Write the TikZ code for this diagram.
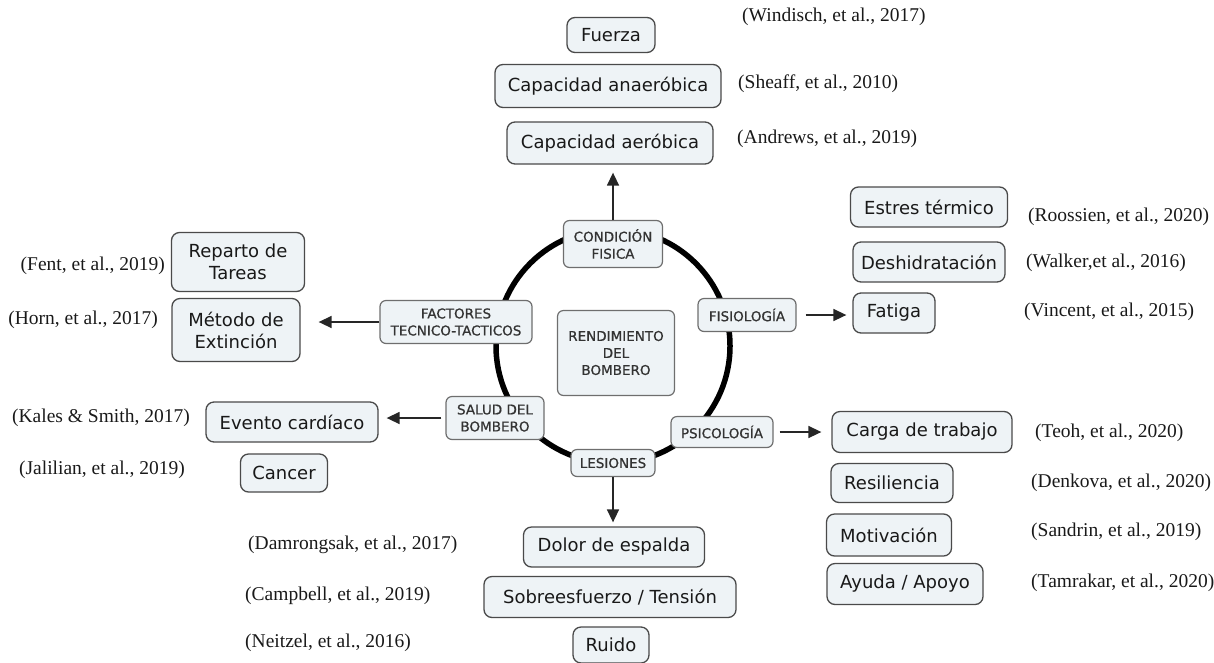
\documentclass[tikz,border=0pt]{standalone}
\usepackage{fontspec}
\setmainfont{Liberation Serif}
\newfontfamily\boxfont{DejaVu Sans}
\newfontfamily\innerfont[FakeBold=0.8]{DejaVu Sans}
\usetikzlibrary{arrows.meta}
\definecolor{boxfill}{HTML}{EEF3F6}
\definecolor{boxline}{HTML}{4A4A4A}
\definecolor{innertext}{HTML}{333333}
\tikzset{
  x=1pt, y=-1pt,
  outer/.style={draw=boxline, fill=boxfill, rounded corners=8pt, line width=1.3pt,
    font=\boxfont\fontsize{18}{22}\selectfont, text=black!90, inner xsep=0pt, inner ysep=0pt,
    align=center, anchor=center},
  inner/.style={draw=boxline!80, fill=boxfill, rounded corners=6pt, line width=1.2pt,
    font=\innerfont\fontsize{13.5}{17}\selectfont, text=innertext, inner xsep=0pt, inner ysep=0pt,
    align=center, anchor=center},
  cite/.style={font=\fontsize{19.5}{22}\selectfont, text=black!90, inner sep=0pt},
  arr/.style={draw=black!85, line width=1.5pt, -{Triangle[length=13pt,width=12pt]}},
}
\begin{document}
\begin{tikzpicture}
\useasboundingbox (0,0) rectangle (1214,662);
% ring
\coordinate (ringc) at (613,346);
\draw[line width=5.5pt, black] (ringc) circle (117pt);

% inner nodes
\node[inner, minimum width=99pt, minimum height=47pt] (cond) at (613,244) {CONDICIÓN\\FISICA};
\node[inner, minimum width=152pt, minimum height=43pt] (fact) at (456,322) {FACTORES\\TECNICO-TACTICOS};
\node[inner, minimum width=117pt, minimum height=85pt] (rend) at (616,353) {RENDIMIENTO\\DEL\\BOMBERO};
\node[inner, minimum width=98pt, minimum height=33pt] (fisio) at (747,315) {FISIOLOGÍA};
\node[inner, minimum width=98pt, minimum height=43pt] (salud) at (495,418) {SALUD DEL\\BOMBERO};
\node[inner, minimum width=102pt, minimum height=31pt] (psico) at (722,432) {PSICOLOGÍA};
\node[inner, minimum width=84pt, minimum height=27pt] (lesion) at (613,463) {LESIONES};

% outer nodes
\node[outer, minimum width=88pt, minimum height=35pt] (fuerza) at (611,35) {Fuerza};
\node[outer, minimum width=226pt, minimum height=43pt] (anaer) at (608,86) {Capacidad anaeróbica};
\node[outer, minimum width=206pt, minimum height=42pt] (aer) at (610,143) {Capacidad aeróbica};

\node[outer, minimum width=157pt, minimum height=40pt] (estres) at (929,207) {Estres térmico};
\node[outer, minimum width=152pt, minimum height=40pt] (deshi) at (929,262) {Deshidratación};
\node[outer, minimum width=82pt, minimum height=40pt] (fatiga) at (894,313) {Fatiga};

\node[outer, minimum width=133pt, minimum height=59pt] (reparto) at (238,262) {Reparto de\\Tareas};
\node[outer, minimum width=128pt, minimum height=63pt] (metodo) at (236,330) {Método de\\Extinción};
\node[outer, minimum width=172pt, minimum height=40pt] (evento) at (292,422) {Evento cardíaco};
\node[outer, minimum width=87pt, minimum height=38pt] (cancer) at (284,473) {Cancer};

\node[outer, minimum width=180pt, minimum height=41pt] (carga) at (922,432) {Carga de trabajo};
\node[outer, minimum width=122pt, minimum height=39pt] (resil) at (892,483) {Resiliencia};
\node[outer, minimum width=125pt, minimum height=42pt] (motiv) at (889,535) {Motivación};
\node[outer, minimum width=156pt, minimum height=41pt] (ayuda) at (905,584) {Ayuda / Apoyo};

\node[outer, minimum width=181pt, minimum height=40pt] (dolor) at (614,547) {Dolor de espalda};
\node[outer, minimum width=252pt, minimum height=41pt] (sobre) at (610,597) {Sobreesfuerzo / Tensión};
\node[outer, minimum width=76pt, minimum height=36pt] (ruido) at (611,645) {Ruido};

% arrows
\draw[arr, shorten >=8pt] (cond.north) -- (cond.north |- aer.south);
\draw[arr, shorten >=18pt] (fact.west) -- (fact.west -| metodo.east);
\draw[arr, shorten <=4pt, shorten >=8pt] (salud.west) -- (salud.west -| evento.east);
\draw[arr, shorten <=9pt, shorten >=6pt] (fisio.east) -- (fisio.east -| fatiga.west);
\draw[arr, shorten <=6pt, shorten >=10pt] (psico.east) -- (psico.east -| carga.west);
\draw[arr, shorten >=4pt] (lesion.south) -- (lesion.south |- dolor.north);

% citations
\node[cite, anchor=west] (c1) at (742,17) {(Windisch, et al., 2017)};
\node[cite, anchor=west] (c2) at (738,84) {(Sheaff, et al., 2010)};
\node[cite, anchor=west] (c3) at (737,139) {(Andrews, et al., 2019)};
\node[cite, anchor=west] (c4) at (1028,217) {(Roossien, et al., 2020)};
\node[cite, anchor=west] (c5) at (1026,263) {(Walker,et al., 2016)};
\node[cite, anchor=west] (c6) at (1024,312) {(Vincent, et al., 2015)};
\node[cite, anchor=east] (c7) at (165,266) {(Fent, et al., 2019)};
\node[cite, anchor=east] (c8) at (158,320) {(Horn, et al., 2017)};
\node[cite, anchor=east] (c9) at (190,418) {(Kales \& Smith, 2017)};
\node[cite, anchor=east] (c10) at (185,470) {(Jalilian, et al., 2019)};
\node[cite, anchor=west] (c11) at (248,545) {(Damrongsak, et al., 2017)};
\node[cite, anchor=west] (c12) at (245,596) {(Campbell, et al., 2019)};
\node[cite, anchor=west] (c13) at (245,643) {(Neitzel, et al., 2016)};
\node[cite, anchor=west] (c14) at (1035,433) {(Teoh, et al., 2020)};
\node[cite, anchor=west] (c15) at (1031,483) {(Denkova, et al., 2020)};
\node[cite, anchor=west] (c16) at (1031,532) {(Sandrin, et al., 2019)};
\node[cite, anchor=west] (c17) at (1031,583) {(Tamrakar, et al., 2020)};
\end{tikzpicture}
\end{document}
